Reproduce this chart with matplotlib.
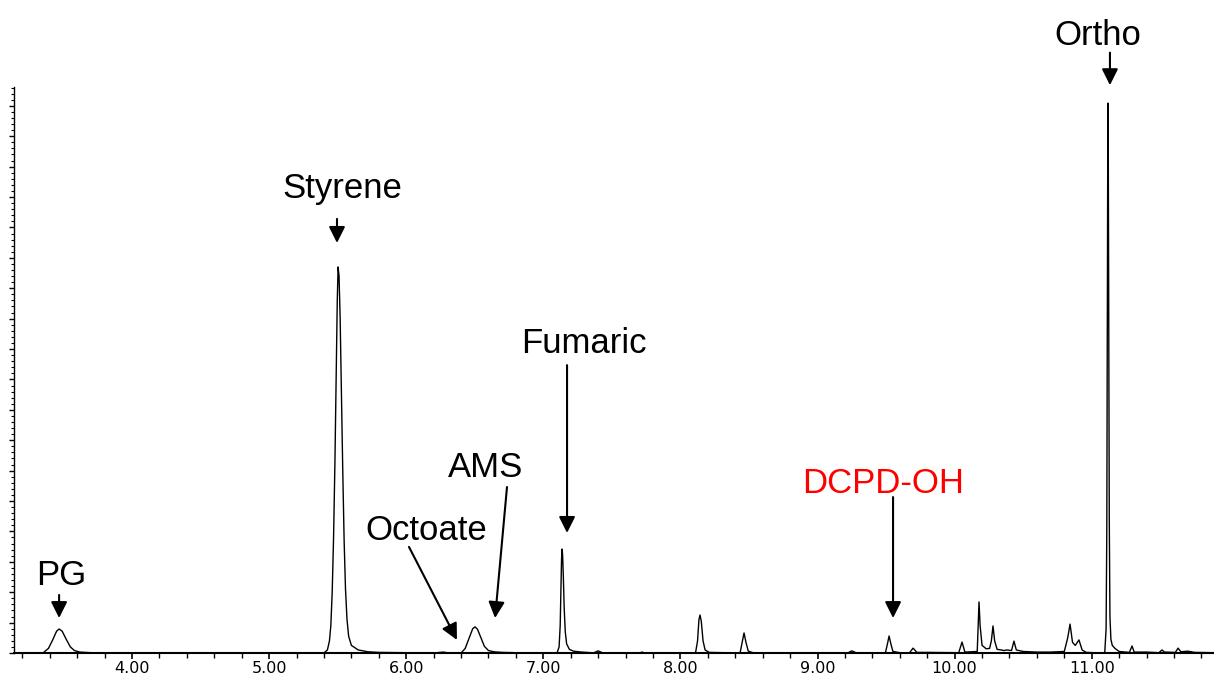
import matplotlib
matplotlib.use("Agg")
import matplotlib.pyplot as plt
from matplotlib.ticker import MultipleLocator, NullFormatter

# chromatogram trace (time in min, signal in tick units)
rt = [3.33, 3.35, 3.39, 3.42, 3.45, 3.468, 3.49, 3.52, 3.55, 3.58, 3.62, 3.70, 3.80,
      5.40, 5.425, 5.44, 5.45, 5.46, 5.47, 5.48, 5.49, 5.497, 5.503, 5.51, 5.518, 5.527,
      5.537, 5.547, 5.557, 5.568, 5.58, 5.60, 5.65, 5.72, 5.80,
      6.20, 6.27, 6.30,
      6.40, 6.43, 6.46, 6.485, 6.502, 6.52, 6.545, 6.57, 6.60, 6.64, 6.70, 6.80,
      7.10, 7.115, 7.123, 7.129, 7.133, 7.137, 7.141, 7.146, 7.152, 7.16, 7.17, 7.19,
      7.22, 7.28, 7.35,
      7.37, 7.40, 7.43, 7.70, 7.72, 7.74,
      8.11, 8.125, 8.135, 8.143, 8.152, 8.165, 8.18, 8.21,
      8.435, 8.45, 8.464, 8.478, 8.495, 8.53,
      9.22, 9.25, 9.28,
      9.495, 9.51, 9.522, 9.535, 9.55, 9.60,
      9.67, 9.697, 9.725, 9.80,
      10.03, 10.054, 10.075,
      10.165, 10.172, 10.178, 10.186, 10.20, 10.23, 10.255,
      10.268, 10.280, 10.292, 10.31, 10.34, 10.36, 10.38,
      10.415, 10.433, 10.45, 10.50, 10.60, 10.70,
      10.80, 10.825, 10.842, 10.86, 10.88, 10.907, 10.93, 10.96,
      11.095, 11.105, 11.110, 11.114, 11.117, 11.119, 11.121, 11.124, 11.128, 11.133,
      11.14, 11.15, 11.17, 11.20,
      11.275, 11.294, 11.31, 11.40,
      11.49, 11.513, 11.53,
      11.61, 11.63, 11.65, 11.70, 11.75, 11.90]
signal = [0.0, 0.0, 0.15, 0.42, 0.72, 0.79, 0.72, 0.45, 0.2, 0.08, 0.03, 0.01, 0.0,
          0.0, 0.1, 0.4, 0.9, 2.0, 3.8, 6.3, 9.4, 11.6, 12.7, 12.4, 11.0, 8.6,
          6.0, 3.7, 2.1, 1.1, 0.55, 0.25, 0.1, 0.04, 0.02,
          0.0, 0.03, 0.01,
          0.0, 0.15, 0.5, 0.8, 0.86, 0.78, 0.5, 0.22, 0.08, 0.04, 0.02, 0.01,
          0.0, 0.2, 0.9, 2.2, 3.1, 3.42, 3.2, 2.5, 1.5, 0.7, 0.3, 0.12,
          0.06, 0.03, 0.01,
          0.01, 0.07, 0.01, 0.0, 0.03, 0.0,
          0.0, 0.4, 1.1, 1.25, 1.05, 0.4, 0.1, 0.02,
          0.0, 0.35, 0.66, 0.35, 0.06, 0.01,
          0.0, 0.07, 0.01,
          0.0, 0.3, 0.56, 0.3, 0.05, 0.01,
          0.0, 0.16, 0.02, 0.02,
          0.01, 0.36, 0.03,
          0.05, 0.9, 1.68, 0.9, 0.25, 0.14, 0.15,
          0.4, 0.89, 0.4, 0.12, 0.1, 0.08, 0.1,
          0.08, 0.39, 0.1, 0.05, 0.03, 0.03,
          0.05, 0.5, 0.95, 0.35, 0.25, 0.43, 0.1, 0.02,
          0.0, 0.8, 4.0, 11.0, 16.5, 18.09, 16.5, 11.0, 4.5, 1.2,
          0.45, 0.25, 0.15, 0.05,
          0.02, 0.23, 0.03, 0.03,
          0.01, 0.1, 0.03,
          0.02, 0.16, 0.04, 0.06, 0.02, 0.01]

# peak labels: name, text position, arrow start, arrow tip, colour
labels = ["PG", "Styrene", "Octoate", "AMS", "Fumaric", "DCPD-OH", "Ortho"]
text_xy = [(3.486, 2.24), (5.532, 14.97), (6.144, 3.72), (6.578, 5.79),
           (7.297, 9.87), (9.481, 5.26), (11.042, 20.0)]
arrow_from = [(3.468, 1.91), (5.495, 14.28), (6.020, 3.49), (6.735, 5.46),
              (7.173, 9.47), (9.551, 5.13), (11.133, 19.75)]
arrow_to = [(3.468, 1.15), (5.495, 13.49), (6.370, 0.43), (6.648, 1.15),
            (7.173, 3.95), (9.551, 1.15), (11.133, 18.68)]
colors = ["black", "black", "black", "black", "black", "red", "black"]

fig = plt.figure(figsize=(12.14, 6.77), dpi=100)
ax = fig.add_axes([14 / 1214, 24 / 677, 1200 / 1214, 566 / 677])

ax.plot(rt, signal, color="black", lw=1.0)

ax.set_xlim(3.139, 11.892)
ax.set_ylim(0, 18.62)

ax.spines["top"].set_visible(False)
ax.spines["right"].set_visible(False)
ax.spines["bottom"].set_linewidth(1.5)
ax.spines["left"].set_linewidth(1.0)

ax.xaxis.set_major_locator(MultipleLocator(1.0))
ax.xaxis.set_minor_locator(MultipleLocator(0.2))
ax.xaxis.set_major_formatter(lambda v, p: "%.2f" % v)
ax.yaxis.set_major_locator(MultipleLocator(1.0))
ax.yaxis.set_minor_locator(MultipleLocator(0.2))
ax.yaxis.set_major_formatter(NullFormatter())

ax.tick_params(axis="x", which="major", direction="out", length=4, width=1.2,
               pad=1.5, labelsize=11.5)
ax.tick_params(axis="x", which="minor", direction="out", length=3.5, width=1.0)
ax.tick_params(axis="y", which="major", direction="out", length=3.5, width=1.0)
ax.tick_params(axis="y", which="minor", direction="out", length=2.2, width=0.8)
for t in ax.get_xticklabels():
    t.set_family("DejaVu Sans")

for name, txy, a0, a1, c in zip(labels, text_xy, arrow_from, arrow_to, colors):
    ax.text(txy[0], txy[1], name, ha="center", va="baseline", fontsize=25,
            family="Liberation Sans", color=c, clip_on=False)
    ax.annotate("", xy=a1, xytext=a0, annotation_clip=False,
                arrowprops=dict(arrowstyle="-|>,head_length=0.7,head_width=0.35",
                                mutation_scale=14, color="black", lw=1.5,
                                shrinkA=0, shrinkB=0))

fig.savefig("out.png", dpi=100)
